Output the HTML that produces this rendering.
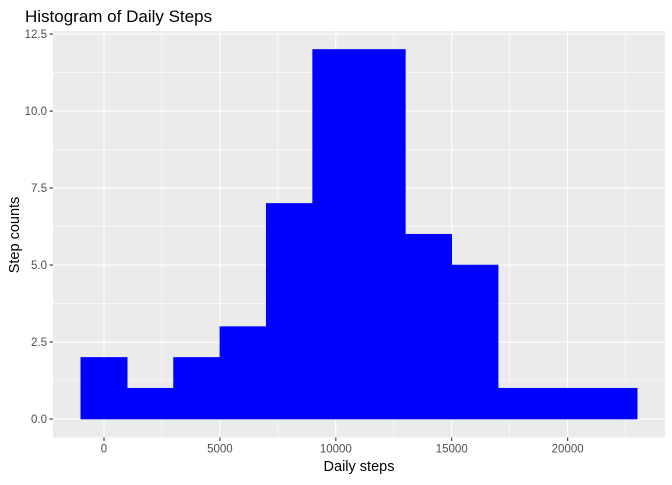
<!DOCTYPE html>
<html><head><meta charset="utf-8"><style>body{margin:0;background:#fff}svg text{font-family:"Liberation Sans",Arial,sans-serif}</style></head>
<body>
<svg id="chart" width="672" height="480" xmlns="http://www.w3.org/2000/svg">
<text x="25" y="22" font-size="17" fill="#000">Histogram of Daily Steps</text>
<g id="plot"></g>
<text x="359" y="471" font-size="14.5" text-anchor="middle" fill="#000">Daily steps</text>
<text transform="translate(19,235) rotate(-90)" font-size="14.5" text-anchor="middle" fill="#000">Step counts</text>
</svg>
<script>
const binStarts=[-1000,1000,3000,5000,7000,9000,11000,13000,15000,17000,19000,21000];
const binWidth=2000;
const counts=[2,1,2,3,7,12,12,6,5,1,1,1];
const xTicks=[0,5000,10000,15000,20000];
const xMinor=[2500,7500,12500,17500,22500];
const yTicks=[0,2.5,5,7.5,10,12.5];
const yTickLabels=["0.0","2.5","5.0","7.5","10.0","12.5"];
const yMinor=[1.25,3.75,6.25,8.75,11.25];
const NS="http://www.w3.org/2000/svg";
const g=document.getElementById('plot');
const px0=53,px1=665,py0=31,py1=437.5;
const xmin=-2200,xmax=24200,ymin=-0.6,ymax=12.6;
const X=v=>px0+(v-xmin)/(xmax-xmin)*(px1-px0);
const Y=v=>py1-(v-ymin)/(ymax-ymin)*(py1-py0);
function mk(t,a){const e=document.createElementNS(NS,t);for(const k in a)e.setAttribute(k,a[k]);g.appendChild(e);return e;}
const bg=mk('rect',{x:px0,y:py0,width:px1-px0,height:py1-py0,fill:'#EBEBEB'});


xMinor.forEach(v=>{const l=mk('line',{x1:X(v),x2:X(v),y1:py0,y2:py1,stroke:'#fff','stroke-width':0.55});

});
yMinor.forEach(v=>{const l=mk('line',{x1:px0,x2:px1,y1:Y(v),y2:Y(v),stroke:'#fff','stroke-width':0.55});

});
xTicks.forEach(v=>{const l=mk('line',{x1:X(v),x2:X(v),y1:py0,y2:py1,stroke:'#fff','stroke-width':1.1});


const t=mk('line',{x1:X(v),x2:X(v),y1:py1,y2:py1+3.5,stroke:'#333','stroke-width':1.1});


const tx=mk('text',{x:X(v),y:py1+15,'font-size':11.5,'text-anchor':'middle',fill:'#4D4D4D'});tx.textContent=String(v);

});
yTicks.forEach((v,i)=>{const l=mk('line',{x1:px0,x2:px1,y1:Y(v),y2:Y(v),stroke:'#fff','stroke-width':1.1});


const t=mk('line',{x1:px0-3.5,x2:px0,y1:Y(v),y2:Y(v),stroke:'#333','stroke-width':1.1});


const tx=mk('text',{x:px0-6,y:Y(v)+4,'font-size':11.5,'text-anchor':'end',fill:'#4D4D4D'});tx.textContent=yTickLabels[i];

});
counts.forEach((c,i)=>{const x0=X(binStarts[i]),x1=X(binStarts[i]+binWidth);
const r=mk('rect',{x:x0,y:Y(c),width:x1-x0,height:Y(0)-Y(c),fill:'#0000FF',stroke:'#0000FF','stroke-width':0.6});

});
</script>
</body></html>
